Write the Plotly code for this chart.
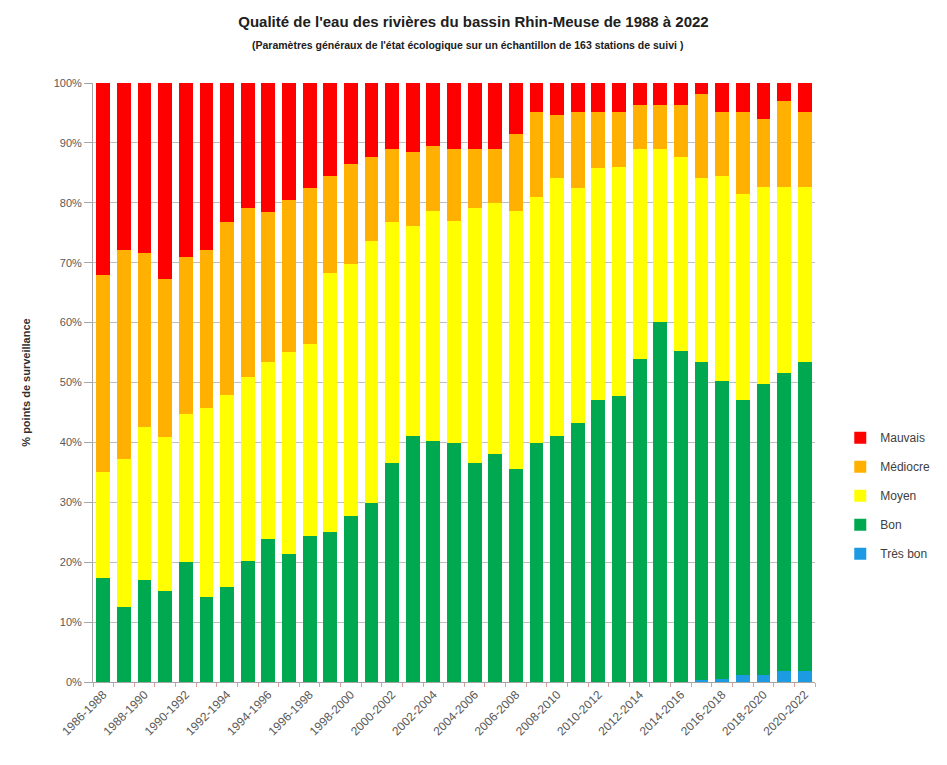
import plotly.graph_objects as go

periods = ["1986-1988", "1987-1989", "1988-1990", "1989-1991", "1990-1992", "1991-1993",
           "1992-1994", "1993-1995", "1994-1996", "1995-1997", "1996-1998", "1997-1999",
           "1998-2000", "1999-2001", "2000-2002", "2001-2003", "2002-2004", "2003-2005",
           "2004-2006", "2005-2007", "2006-2008", "2007-2009", "2008-2010", "2009-2011",
           "2010-2012", "2011-2013", "2012-2014", "2013-2015", "2014-2016", "2015-2017",
           "2016-2018", "2017-2019", "2018-2020", "2019-2021", "2020-2022"]

tres_bon = [0, 0, 0, 0, 0, 0, 0, 0, 0, 0, 0, 0, 0, 0, 0, 0, 0, 0, 0, 0, 0, 0, 0, 0,
            0, 0, 0, 0, 0, 0.3, 0.5, 1.2, 1.2, 1.8, 1.8]
bon = [17.4, 12.5, 17.1, 15.2, 20.0, 14.2, 15.8, 20.2, 23.9, 21.4, 24.4, 25.1, 27.7, 29.9,
       36.6, 41.0, 40.3, 39.9, 36.6, 38.1, 35.5, 39.9, 41.0, 43.3, 47.0, 47.7, 54.0, 60.1,
       55.2, 53.1, 49.7, 45.8, 48.6, 49.8, 51.6]
moyen = [17.7, 24.8, 25.5, 25.7, 24.7, 31.6, 32.1, 30.7, 29.6, 33.7, 32.0, 43.1, 42.1, 43.7,
         40.2, 35.2, 38.4, 37.0, 42.5, 41.8, 43.1, 41.0, 43.1, 39.1, 38.8, 38.3, 35.0, 28.9,
         32.4, 30.7, 34.3, 34.5, 32.9, 31.1, 29.3]
mediocre = [32.8, 34.8, 29.1, 26.3, 26.3, 26.3, 28.9, 28.2, 25.0, 25.4, 26.0, 16.3, 16.7, 14.0,
            12.2, 12.2, 10.8, 12.1, 9.9, 9.1, 12.9, 14.2, 10.6, 12.7, 9.3, 9.1, 7.3, 7.3,
            8.7, 14.1, 10.6, 13.6, 11.3, 14.3, 12.4]
mauvais = [32.1, 27.9, 28.3, 32.8, 29.0, 27.9, 23.2, 20.9, 21.5, 19.5, 17.6, 15.5, 13.5, 12.4,
           11.0, 11.6, 10.5, 11.0, 11.0, 11.0, 8.5, 4.9, 5.3, 4.9, 4.9, 4.9, 3.7, 3.7,
           3.7, 1.8, 4.9, 4.9, 6.0, 3.0, 4.9]

series = [("Très bon", tres_bon, "#1C9BE2"),
          ("Bon", bon, "#00A850"),
          ("Moyen", moyen, "#FFFF00"),
          ("Médiocre", mediocre, "#FFB000"),
          ("Mauvais", mauvais, "#FF0000")]

FONT = "Liberation Sans"

fig = go.Figure()
for i, (name, vals, col) in enumerate(series):
    fig.add_trace(go.Bar(
        x=periods, y=[v / 100 for v in vals], name=name,
        marker=dict(color=col, line=dict(width=0)),
        legendgroup=name, legendrank=1000 - i,
    ))

ticktext = [p if i % 2 == 0 else "" for i, p in enumerate(periods)]

fig.update_layout(
    barmode="stack",
    bargap=0.33,
    width=947, height=765,
    margin=dict(l=93, r=122, t=83, b=83),
    paper_bgcolor="white", plot_bgcolor="white",
    font=dict(family=FONT, color="#404040"),
    title=dict(text="<b>Qualité de l'eau des rivières du bassin Rhin-Meuse de 1988 à 2022</b>",
               x=0.5, xref="container", xanchor="center",
               y=1 - 22 / 765, yref="container", yanchor="middle",
               font=dict(size=15, color="#202020", family=FONT)),
    showlegend=True,
    legend=dict(x=1.035, xanchor="left", y=0.432, yanchor="top",
                traceorder="grouped", tracegroupgap=10,
                font=dict(size=12, color="#404040"), itemwidth=30),
    annotations=[dict(
        text="<b>(Paramètres généraux de l'état écologique sur un échantillon de 163 stations de suivi )</b>",
        xref="paper", yref="paper", x=(473 - 93) / 732, y=1 + (83 - 45) / 599,
        xanchor="center", yanchor="middle", showarrow=False,
        font=dict(size=10.5, color="#202020", family=FONT))],
)

fig.update_yaxes(
    range=[0, 1], tickformat=".0%", dtick=0.1,
    showgrid=True, gridcolor="#BFBFBF", gridwidth=1,
    showline=True, linecolor="#A6A6A6", linewidth=1,
    ticks="outside", ticklen=8, tickcolor="#A6A6A6",
    tickfont=dict(size=11, color="#595959"),
    zeroline=False,
    title=dict(text="<b>% points de surveillance</b>", font=dict(size=11, color="#303030"),
               standoff=20),
)
fig.update_xaxes(
    tickmode="array", tickvals=periods, ticktext=ticktext,
    tickangle=-45, tickson="boundaries",
    ticks="outside", ticklen=4, tickcolor="#D9A0A0",
    showline=True, linecolor="#A6A6A6", linewidth=1,
    showgrid=False,
    tickfont=dict(size=12, color="#595959"),
)

fig.write_html("out.html")
